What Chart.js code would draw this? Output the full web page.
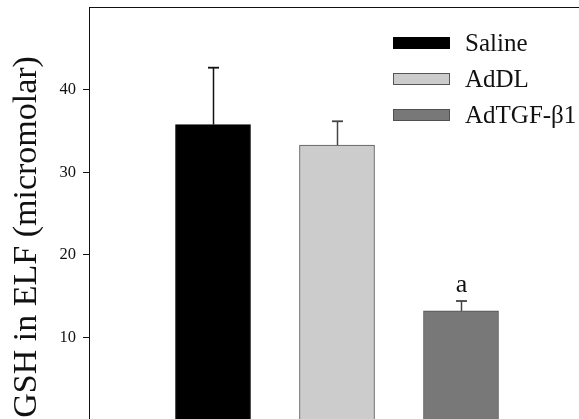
<!DOCTYPE html>
<html>
<head>
<meta charset="utf-8">
<style>
  html, body { margin: 0; padding: 0; overflow: hidden; background: #ffffff; }
  #wrap { width: 600px; height: 422px; }
</style>
<script src="https://cdn.jsdelivr.net/npm/chart.js@4.4.1/dist/chart.umd.min.js"></script>
</head>
<body>
<div id="wrap"><canvas id="c" width="600" height="422"></canvas></div>
<script>
// GSH concentration in epithelial lining fluid, mean + SEM per group
const groups = ['Saline', 'AdDL', 'AdTGF-β1'];
const gshMeans = [35.8, 33.3, 13.2];
const gshErrors = [6.9, 2.9, 1.2];
const sigMarks = ['', '', 'a'];
const yTicks = [10, 20, 30, 40];
const yTitle = 'GSH in ELF (micromolar)';

const fillColors = ['#000000', '#cccccc', '#787878'];
const edgeColors = ['#000000', '#555555', '#505050'];
const whiskerColors = ['#111111', '#444444', '#444444'];
const SERIF = '"Liberation Serif", "Times New Roman", serif';
const INK = '#111111';

// upper error whiskers plus significance letters
const errorBars = {
  id: 'errorBars',
  afterDatasetsDraw(chart) {
    const { ctx, scales: { y } } = chart;
    chart.data.datasets.forEach((ds, i) => {
      const bar = chart.getDatasetMeta(i).data[0];
      if (!bar) return;
      const x = Math.round(bar.x) + 0.5;
      const top = y.getPixelForValue(gshMeans[i] + gshErrors[i]);
      ctx.save();
      ctx.strokeStyle = whiskerColors[i];
      ctx.lineWidth = 1.5;
      ctx.beginPath();
      ctx.moveTo(x, bar.y);
      ctx.lineTo(x, top);
      ctx.stroke();
      ctx.lineWidth = 1.8;
      ctx.beginPath();
      ctx.moveTo(x - 5.5, top);
      ctx.lineTo(x + 5.5, top);
      ctx.stroke();
      if (sigMarks[i]) {
        ctx.fillStyle = INK;
        ctx.font = '26px ' + SERIF;
        ctx.textAlign = 'center';
        ctx.textBaseline = 'alphabetic';
        ctx.fillText(sigMarks[i], x, top - 9);
      }
      ctx.restore();
    });
  }
};

// boxed legend in the upper right of the plot, and the rotated value-axis title
const annotations = {
  id: 'annotations',
  afterDraw(chart) {
    const { ctx, chartArea } = chart;
    ctx.save();
    chart.data.datasets.forEach((ds, i) => {
      const y0 = 37 + i * 36;
      ctx.fillStyle = ds.backgroundColor;
      ctx.fillRect(393, y0, 57, 12);
      ctx.strokeStyle = ds.borderColor;
      ctx.lineWidth = 1;
      ctx.strokeRect(393.5, y0 + 0.5, 56, 11);
      ctx.fillStyle = INK;
      ctx.font = '25px ' + SERIF;
      ctx.textAlign = 'left';
      ctx.textBaseline = 'middle';
      ctx.fillText(ds.label, 465, y0 + 7);
    });
    ctx.translate(27.5, chartArea.bottom - 2);
    ctx.rotate(-Math.PI / 2);
    ctx.fillStyle = INK;
    ctx.font = '34px ' + SERIF;
    ctx.textAlign = 'left';
    ctx.textBaseline = 'middle';
    ctx.fillText(yTitle, 0, 0);
    ctx.restore();
  }
};

new Chart(document.getElementById('c'), {
  type: 'bar',
  data: {
    datasets: groups.map((g, i) => ({
      label: g,
      data: [{ x: i + 1, y: gshMeans[i] }],
      backgroundColor: fillColors[i],
      borderColor: edgeColors[i],
      borderWidth: 1,
      barThickness: 75
    }))
  },
  options: {
    responsive: false,
    animation: false,
    layout: { padding: { left: 7, top: 7.5, right: 15, bottom: 2.27 } },
    plugins: { legend: { display: false }, tooltip: { enabled: false } },
    scales: {
      x: {
        type: 'linear',
        position: 'top',
        min: 0,
        max: groups.length + 1,
        offset: false,
        stacked: true,
        ticks: { display: false },
        grid: { display: false, drawTicks: false },
        border: { display: true, color: INK, width: 1 }
      },
      y: {
        min: 0,
        max: 50,
        afterBuildTicks: s => { s.ticks = yTicks.map(v => ({ value: v })); },
        afterFit: s => { s.width = 82; s.paddingTop = 0; s.paddingBottom = 0; },
        ticks: { color: INK, padding: 7, font: { family: SERIF, size: 16.5 } },
        grid: { drawOnChartArea: false, drawTicks: true, tickLength: 6, color: INK, lineWidth: 1 },
        border: { display: true, color: INK, width: 1 }
      }
    }
  },
  plugins: [errorBars, annotations]
});
</script>
</body>
</html>
